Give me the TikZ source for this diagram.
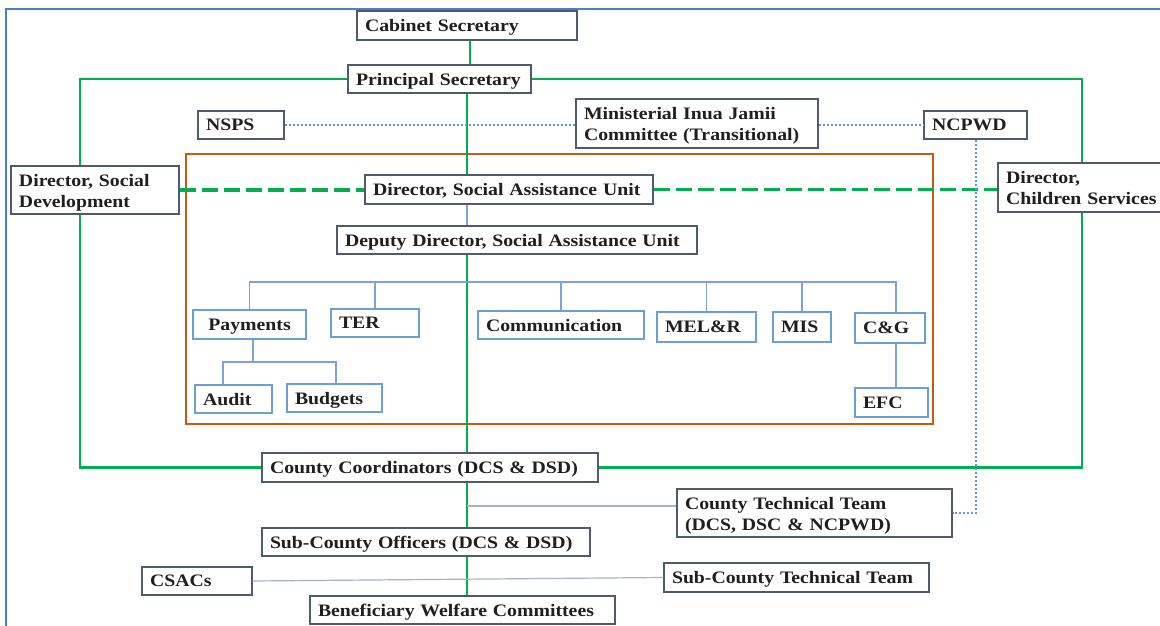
\documentclass[tikz,border=0pt]{standalone}
\usepackage{fontspec}
\setmainfont{Liberation Serif}[FakeStretch=1.13]
\hyphenpenalty=10000
\exhyphenpenalty=10000
\definecolor{boxc}{HTML}{505A6B}
\definecolor{inbox}{HTML}{6A9FD8}
\definecolor{grn}{HTML}{00B050}
\definecolor{orng}{HTML}{C55A11}
\definecolor{frm}{HTML}{4A7EC7}
\definecolor{dotc}{HTML}{5B9BD5}
\definecolor{thin}{HTML}{A5B3C6}
\definecolor{busc}{HTML}{7DA3D4}
\definecolor{txt}{HTML}{1F1F1F}
\tikzset{
  box/.style={draw=boxc, line width=1.2pt, fill=white, inner xsep=8pt, inner ysep=0pt,
    align=left, text=txt, font=\bfseries\fontsize{17.5}{21}\selectfont},
  ubox/.style={box, draw=inbox},
  sz/.style 2 args={minimum width=#1pt, minimum height=#2pt, text width=#1pt-16pt, text depth=-1.6pt},
  two/.style={text depth=19.4pt},
  gline/.style={draw=grn, line width=2.5pt},
  gdash/.style={draw=grn, line width=3.5pt, dash pattern=on 16pt off 6pt},
  bline/.style={draw=busc, line width=1.5pt},
  dline/.style={draw=dotc, line width=2pt, dotted},
  tline/.style={draw=thin, line width=1.2pt},
}
\begin{document}
\begin{tikzpicture}[x=1pt,y=-1pt]
\useasboundingbox (0,0) rectangle (1160,626);
\clip (0,0) rectangle (1160,626);
% frame
\draw[frm, line width=1.5pt] (6,630) -- (6,9) -- (1165,9);
% orange unit box
\draw[orng, line width=2pt] (186,154) rectangle (933,424);
% helper coordinates
\coordinate (spine) at (467,0);
\coordinate (cabx) at (470,0);
\coordinate (lx) at (80,0);
\coordinate (rx) at (1082,0);
\coordinate (bus) at (0,282);
\coordinate (sub) at (0,362);
\coordinate (ctty) at (0,506);
% nodes
\node[box, sz={220}{29}] (cab) at (467,25.5) {Cabinet Secretary};
\node[box, sz={183}{28}] (ps) at (439.5,79) {Principal Secretary};
\node[box, sz={86}{28}] (nsps) at (241,125) {NSPS};
\node[box, sz={242}{49}, two] (mij) at (697,123.5) {Ministerial Inua Jamii\\Committee (Transitional)};
\node[box, sz={103}{28}] (ncpwd) at (975.5,125) {NCPWD};
\node[box, sz={168}{48}, two] (dsd) at (95,190) {Director, Social\\Development};
\node[box, sz={288}{29}] (dsau) at (509,189.5) {Director, Social Assistance Unit};
\node[box, sz={175}{49}, two] (dcs) at (1085.5,187.5) {Director,\\Children Services};
\node[box, sz={360}{28}] (dd) at (517,240) {Deputy Director, Social Assistance Unit};
\node[ubox, sz={113}{29}, align=center] (pay) at (249.5,324.5) {Payments};
\node[ubox, sz={88}{28}] (ter) at (375,323) {TER};
\node[ubox, sz={166}{28}] (comm) at (561,325) {Communication};
\node[ubox, sz={99}{30}] (melr) at (706.5,327) {MEL\&R};
\node[ubox, sz={58}{30}] (mis) at (802,327) {MIS};
\node[ubox, sz={70}{30}] (cg) at (890,328) {C\&G};
\node[ubox, sz={73}{29}] (efc) at (891.5,402.5) {EFC};
\node[ubox, sz={77}{28}] (audit) at (233.5,399) {Audit};
\node[ubox, sz={95}{28}] (budg) at (334.5,398) {Budgets};
\node[box, sz={336}{29}] (cc) at (430,467.5) {County Coordinators (DCS \& DSD)};
\node[box, sz={275}{48}, two] (ctt) at (814.5,513) {County Technical Team\\(DCS, DSC \& NCPWD)};
\node[box, sz={328}{28}] (sco) at (426,542) {Sub-County Officers (DCS \& DSD)};
\node[box, sz={110}{28}] (csac) at (197,581) {CSACs};
\node[box, sz={265}{29}] (sctt) at (796.5,577.5) {Sub-County Technical Team};
\node[box, sz={305}{28}] (bwc) at (462.5,610) {Beneficiary Welfare Committees};
\coordinate (cgtop) at ([xshift=6pt]cg.north);
\coordinate (cgbot) at ([xshift=6pt]cg.south);
\coordinate (efctop) at ([xshift=4.5pt]efc.north);
\coordinate (paybot) at ([xshift=3.5pt]pay.south);
\coordinate (audtop) at ([xshift=-10.5pt]audit.north);
\coordinate (budtop) at ([xshift=1.5pt]budg.north);
% green hierarchy
\draw[gline] (cabx |- cab.south) -- (cabx |- ps.north);
\draw[gline] (spine |- ps.south) -- (spine |- dsau.north);
\draw[gline] (ps.west) -| (lx |- dsd.north);
\draw[gline] (ps.east) -| (rx |- dcs.north);
\draw[gline] (lx |- dsd.south) |- (cc.west);
\draw[gline] (rx |- dcs.south) |- (cc.east);
\draw[gline] (spine |- dd.south) -- (spine |- cc.north);
\draw[gline] (spine |- cc.south) -- (spine |- sco.north);
\draw[gline] (spine |- sco.south) -- (spine |- bwc.north);
% dashed green
\draw[gdash] (dsd.east) -- (dsd.east -| dsau.west);
\draw[gdash] (dsau.east) -- (dsau.east -| dcs.west);
% blue unit connectors
\draw[bline] (spine |- dsau.south) -- (spine |- dd.north);
\draw[bline] (pay.north) |- (bus -| cgtop) -- (cgtop);
\draw[bline] (ter.north) -- (ter.north |- bus);
\draw[bline] (comm.north) -- (comm.north |- bus);
\draw[bline] (melr.north) -- (melr.north |- bus);
\draw[bline] (mis.north) -- (mis.north |- bus);
\draw[bline] (paybot) -- (paybot |- sub);
\draw[bline] (audtop) |- (budtop |- sub) -- (budtop);
\draw[bline] (cgbot) -- (efctop);
% dotted
\draw[dline] (nsps.east) -- (nsps.east -| mij.west);
\draw[dline] (mij.east |- ncpwd.west) -- (ncpwd.west);
\draw[dline] (ncpwd.south) -- (ncpwd.south |- ctt.east) -- (ctt.east);
% thin lines
\draw[tline] (spine |- ctty) -- (ctt.west |- ctty);
\draw[tline] (csac.east) -- (sctt.west);
\end{tikzpicture}
\end{document}
